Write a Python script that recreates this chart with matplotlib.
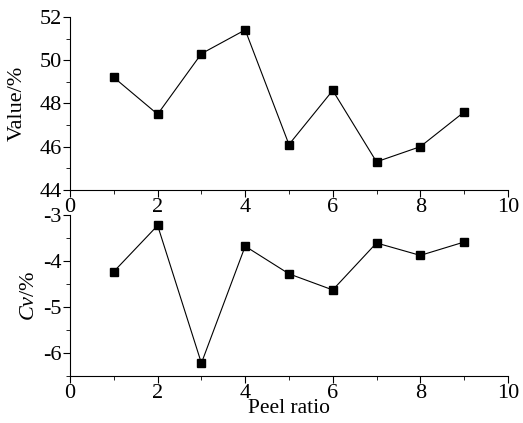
import matplotlib
matplotlib.use('Agg')
import matplotlib.pyplot as plt
from matplotlib.ticker import MultipleLocator

plt.rcParams['font.family'] = ['Liberation Serif', 'DejaVu Serif']
plt.rcParams['mathtext.fontset'] = 'custom'
plt.rcParams['mathtext.it'] = 'Liberation Serif:italic'
plt.rcParams['mathtext.rm'] = 'Liberation Serif'
plt.rcParams['axes.unicode_minus'] = False

peel_ratio = [1, 2, 3, 4, 5, 6, 7, 8, 9]
value = [49.2, 47.5, 50.3, 51.4, 46.1, 48.6, 45.3, 46.0, 47.6]
cv = [-4.23, -3.23, -6.22, -3.68, -4.28, -4.63, -3.61, -3.88, -3.59]

fig = plt.figure(figsize=(5.23, 4.23), dpi=100)
ax1 = fig.add_axes([0.134, 0.551, 0.837, 0.409])
ax2 = fig.add_axes([0.134, 0.111, 0.837, 0.381])

for ax, y in ((ax1, value), (ax2, cv)):
    ax.plot(peel_ratio, y, color='black', lw=0.8, marker='s', ms=5.5)
    ax.spines['top'].set_visible(False)
    ax.spines['right'].set_visible(False)
    ax.set_xlim(0, 10)
    ax.xaxis.set_major_locator(MultipleLocator(2))
    ax.xaxis.set_minor_locator(MultipleLocator(1))
    ax.tick_params(which='major', length=5, labelsize=16, pad=1)
    ax.tick_params(which='minor', length=3)
    ax.set_facecolor('none')

ax1.set_ylim(44, 52)
ax1.yaxis.set_major_locator(MultipleLocator(2))
ax1.yaxis.set_minor_locator(MultipleLocator(1))
ax1.set_ylabel('Value/%', fontsize=16, labelpad=9)

ax2.set_ylim(-6.5, -3)
ax2.yaxis.set_major_locator(MultipleLocator(1))
ax2.yaxis.set_minor_locator(MultipleLocator(0.5))
ax2.set_ylabel('$Cv$/%', fontsize=16, labelpad=3)
ax2.set_xlabel('Peel ratio', fontsize=15.5, labelpad=-3)

fig.savefig('out.png', dpi=100)
